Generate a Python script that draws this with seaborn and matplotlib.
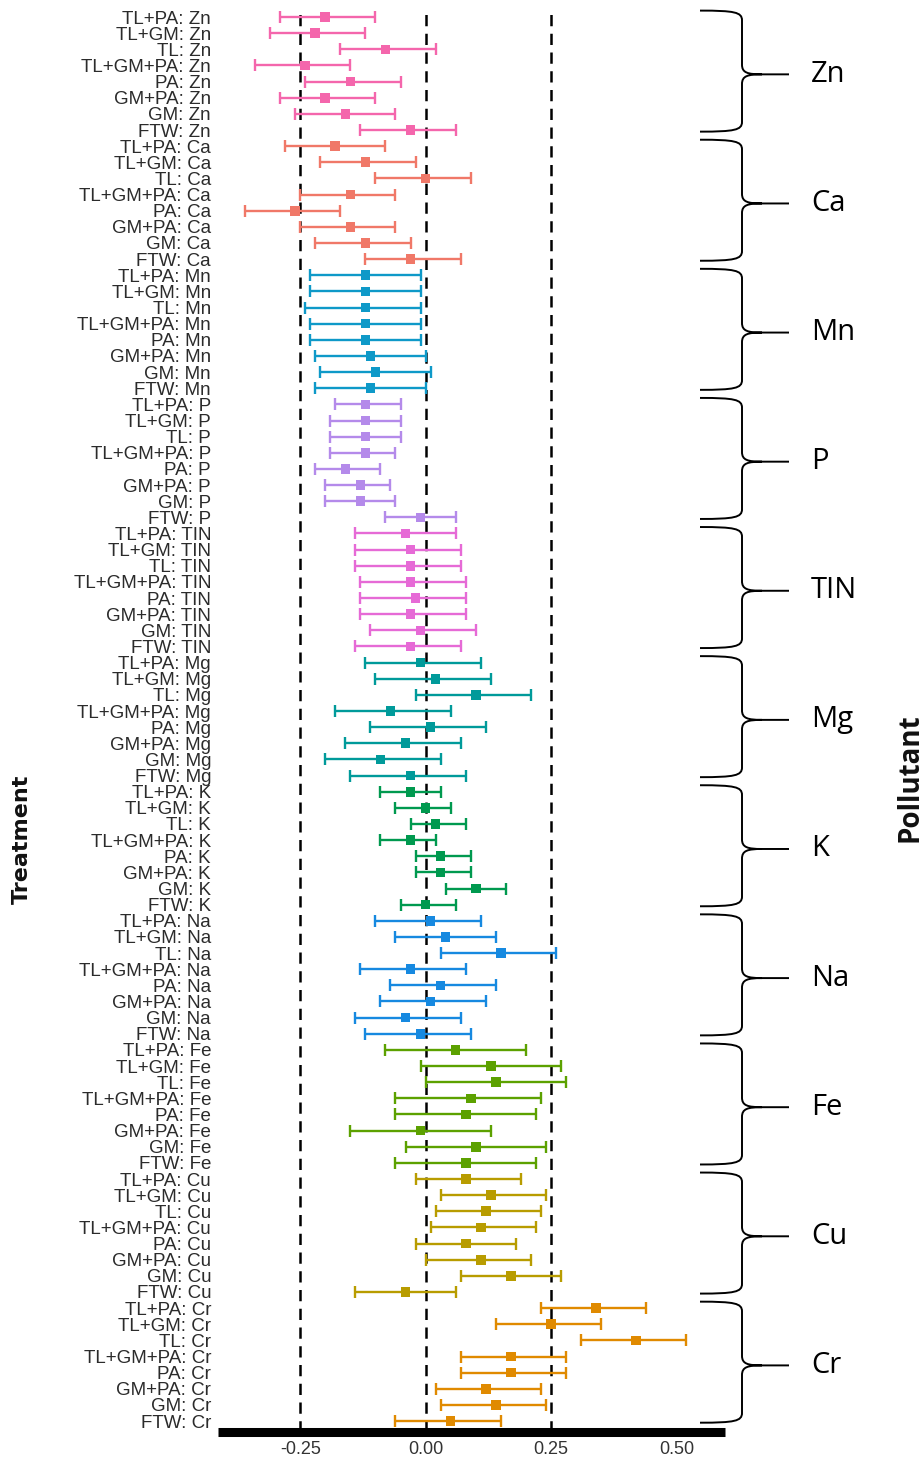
#!/usr/bin/env python3

import matplotlib
matplotlib.use("Agg")
import matplotlib.pyplot as plt
from matplotlib.path import Path
from matplotlib.patches import PathPatch
from matplotlib.transforms import blended_transform_factory
import numpy as np
import pandas as pd
import seaborn as sns

pollutants = ["Zn", "Ca", "Mn", "P", "TIN", "Mg", "K", "Na", "Fe", "Cu", "Cr"]
treatments = ["TL+PA", "TL+GM", "TL", "TL+GM+PA", "PA", "GM+PA", "GM", "FTW"]

# effect size per pollutant (rows) and treatment (columns)
estimate = [
    [-0.20, -0.22, -0.08, -0.24, -0.15, -0.20, -0.16, -0.03],
    [-0.18, -0.12, 0.00, -0.15, -0.26, -0.15, -0.12, -0.03],
    [-0.12, -0.12, -0.12, -0.12, -0.12, -0.11, -0.10, -0.11],
    [-0.12, -0.12, -0.12, -0.12, -0.16, -0.13, -0.13, -0.01],
    [-0.04, -0.03, -0.03, -0.03, -0.02, -0.03, -0.01, -0.03],
    [-0.01, 0.02, 0.10, -0.07, 0.01, -0.04, -0.09, -0.03],
    [-0.03, 0.00, 0.02, -0.03, 0.03, 0.03, 0.10, 0.00],
    [0.01, 0.04, 0.15, -0.03, 0.03, 0.01, -0.04, -0.01],
    [0.06, 0.13, 0.14, 0.09, 0.08, -0.01, 0.10, 0.08],
    [0.08, 0.13, 0.12, 0.11, 0.08, 0.11, 0.17, -0.04],
    [0.34, 0.25, 0.42, 0.17, 0.17, 0.12, 0.14, 0.05],
]
ci_low = [
    [-0.29, -0.31, -0.17, -0.34, -0.24, -0.29, -0.26, -0.13],
    [-0.28, -0.21, -0.10, -0.25, -0.36, -0.25, -0.22, -0.12],
    [-0.23, -0.23, -0.24, -0.23, -0.23, -0.22, -0.21, -0.22],
    [-0.18, -0.19, -0.19, -0.19, -0.22, -0.20, -0.20, -0.08],
    [-0.14, -0.14, -0.14, -0.13, -0.13, -0.13, -0.11, -0.14],
    [-0.12, -0.10, -0.02, -0.18, -0.11, -0.16, -0.20, -0.15],
    [-0.09, -0.06, -0.03, -0.09, -0.02, -0.02, 0.04, -0.05],
    [-0.10, -0.06, 0.03, -0.13, -0.07, -0.09, -0.14, -0.12],
    [-0.08, -0.01, 0.00, -0.06, -0.06, -0.15, -0.04, -0.06],
    [-0.02, 0.03, 0.02, 0.01, -0.02, 0.00, 0.07, -0.14],
    [0.23, 0.14, 0.31, 0.07, 0.07, 0.02, 0.03, -0.06],
]
ci_high = [
    [-0.10, -0.12, 0.02, -0.15, -0.05, -0.10, -0.06, 0.06],
    [-0.08, -0.02, 0.09, -0.06, -0.17, -0.06, -0.03, 0.07],
    [-0.01, -0.01, -0.01, -0.01, -0.01, 0.00, 0.01, 0.00],
    [-0.05, -0.05, -0.05, -0.06, -0.09, -0.07, -0.06, 0.06],
    [0.06, 0.07, 0.07, 0.08, 0.08, 0.08, 0.10, 0.07],
    [0.11, 0.13, 0.21, 0.05, 0.12, 0.07, 0.03, 0.08],
    [0.03, 0.05, 0.08, 0.02, 0.09, 0.09, 0.16, 0.06],
    [0.11, 0.14, 0.26, 0.08, 0.14, 0.12, 0.07, 0.09],
    [0.20, 0.27, 0.28, 0.23, 0.22, 0.13, 0.24, 0.22],
    [0.19, 0.24, 0.23, 0.22, 0.18, 0.21, 0.27, 0.06],
    [0.44, 0.35, 0.52, 0.28, 0.28, 0.23, 0.24, 0.15],
]
colors = ["#F466AC", "#F07868", "#0E99C8", "#B48AEA", "#E66AD6", "#009A9A",
          "#00994F", "#1689E0", "#5CA100", "#B89C00", "#E08A00"]
x_ticks = [-0.25, 0.00, 0.25, 0.50]

# long table: one row per pollutant/treatment
rows = []
for i, p in enumerate(pollutants):
    for j, t in enumerate(treatments):
        rows.append({"pollutant": p, "label": f"{t}: {p}", "pos": i * 8 + j,
                     "est": estimate[i][j], "lo": ci_low[i][j],
                     "hi": ci_high[i][j]})
df = pd.DataFrame(rows)
palette = dict(zip(pollutants, colors))

sns.set_theme(style="white")
narrow = ["Liberation Sans", "DejaVu Sans"]

fig = plt.figure(figsize=(9.22, 14.59), dpi=100)
ax = fig.add_axes([0.2364, 0.0188, 0.5499, 0.9757])

# reference lines
for v in x_ticks[:3]:
    ax.axvline(v, color="black", lw=1.8, ls=(0, (4.5, 3)), zorder=1)

# confidence intervals
for p in pollutants:
    sub = df[df["pollutant"] == p]
    ax.errorbar(sub["est"], sub["pos"],
                xerr=[sub["est"] - sub["lo"], sub["hi"] - sub["est"]],
                fmt="none", ecolor=palette[p], elinewidth=1.7,
                capsize=4.2, capthick=1.7, zorder=2)

sns.scatterplot(data=df, x="est", y="pos", hue="pollutant", palette=palette,
                marker="s", s=48, linewidth=0, legend=False, ax=ax, zorder=3)

ax.set(xlim=(-0.414, 0.597), ylim=(87.65, -0.56))
ax.set_xticks(x_ticks)
ax.set_xticklabels([f"{v:.2f}" for v in x_ticks], family=narrow,
                   fontsize=13, color="#333333")
ax.set_yticks(df["pos"])
ax.set_yticklabels(df["label"], family=narrow, fontsize=13.5,
                   color="#2b2b2b")
ax.tick_params(axis="x", length=0, pad=7)
ax.tick_params(axis="y", length=0, pad=5)
ax.set_xlabel("")
ax.set_ylabel("")
for s in ["top", "right", "left"]:
    ax.spines[s].set_visible(False)
ax.spines["bottom"].set_linewidth(6.5)
ax.spines["bottom"].set_color("black")
ax.spines["bottom"].set_capstyle("butt")

# braces for pollutant groups (x in figure fraction, y in data rows)
tr = blended_transform_factory(fig.transFigure, ax.transData)
x0, x1, xc, xe = 700 / 922, 742 / 922, 762 / 922, 789 / 922
for i, p in enumerate(pollutants):
    top = i * 8 - 0.4
    bot = i * 8 + 7 + 0.1
    mid = i * 8 + 3.55
    r = 0.6
    verts = [
        (x0, top), (x1 - 0.008, top), (x1, top + 0.1), (x1, top + r),
        (x1, mid - r),
        (x1, mid - 0.1), (x1 + 0.006, mid), (xc, mid),
        (xe, mid),
        (xc, mid), (x1 + 0.006, mid), (x1, mid + 0.1), (x1, mid + r),
        (x1, bot - r),
        (x1, bot - 0.1), (x1 - 0.008, bot), (x0, bot),
    ]
    codes = [Path.MOVETO, Path.CURVE4, Path.CURVE4, Path.CURVE4,
             Path.LINETO,
             Path.CURVE4, Path.CURVE4, Path.CURVE4,
             Path.LINETO,
             Path.MOVETO, Path.CURVE4, Path.CURVE4, Path.CURVE4,
             Path.LINETO,
             Path.CURVE4, Path.CURVE4, Path.CURVE4]
    ax.add_patch(PathPatch(Path(verts, codes), facecolor="none",
                           edgecolor="black", lw=1.4, transform=tr,
                           clip_on=False))
    ax.text(811 / 922, mid, p, transform=tr, fontsize=21, family="Open Sans",
            color="black", ha="left", va="center", clip_on=False)

fig.text(22 / 922, 1 - 839 / 1459, "Treatment", rotation=90, ha="center",
         va="center", fontsize=16, fontweight="bold", color="#111111")
fig.text(910 / 922, 1 - 778 / 1459, "Pollutant", rotation=90, ha="center",
         va="center", fontsize=20, fontweight="bold", family="Open Sans",
         color="#111111")

fig.savefig("out.png", dpi=100)
